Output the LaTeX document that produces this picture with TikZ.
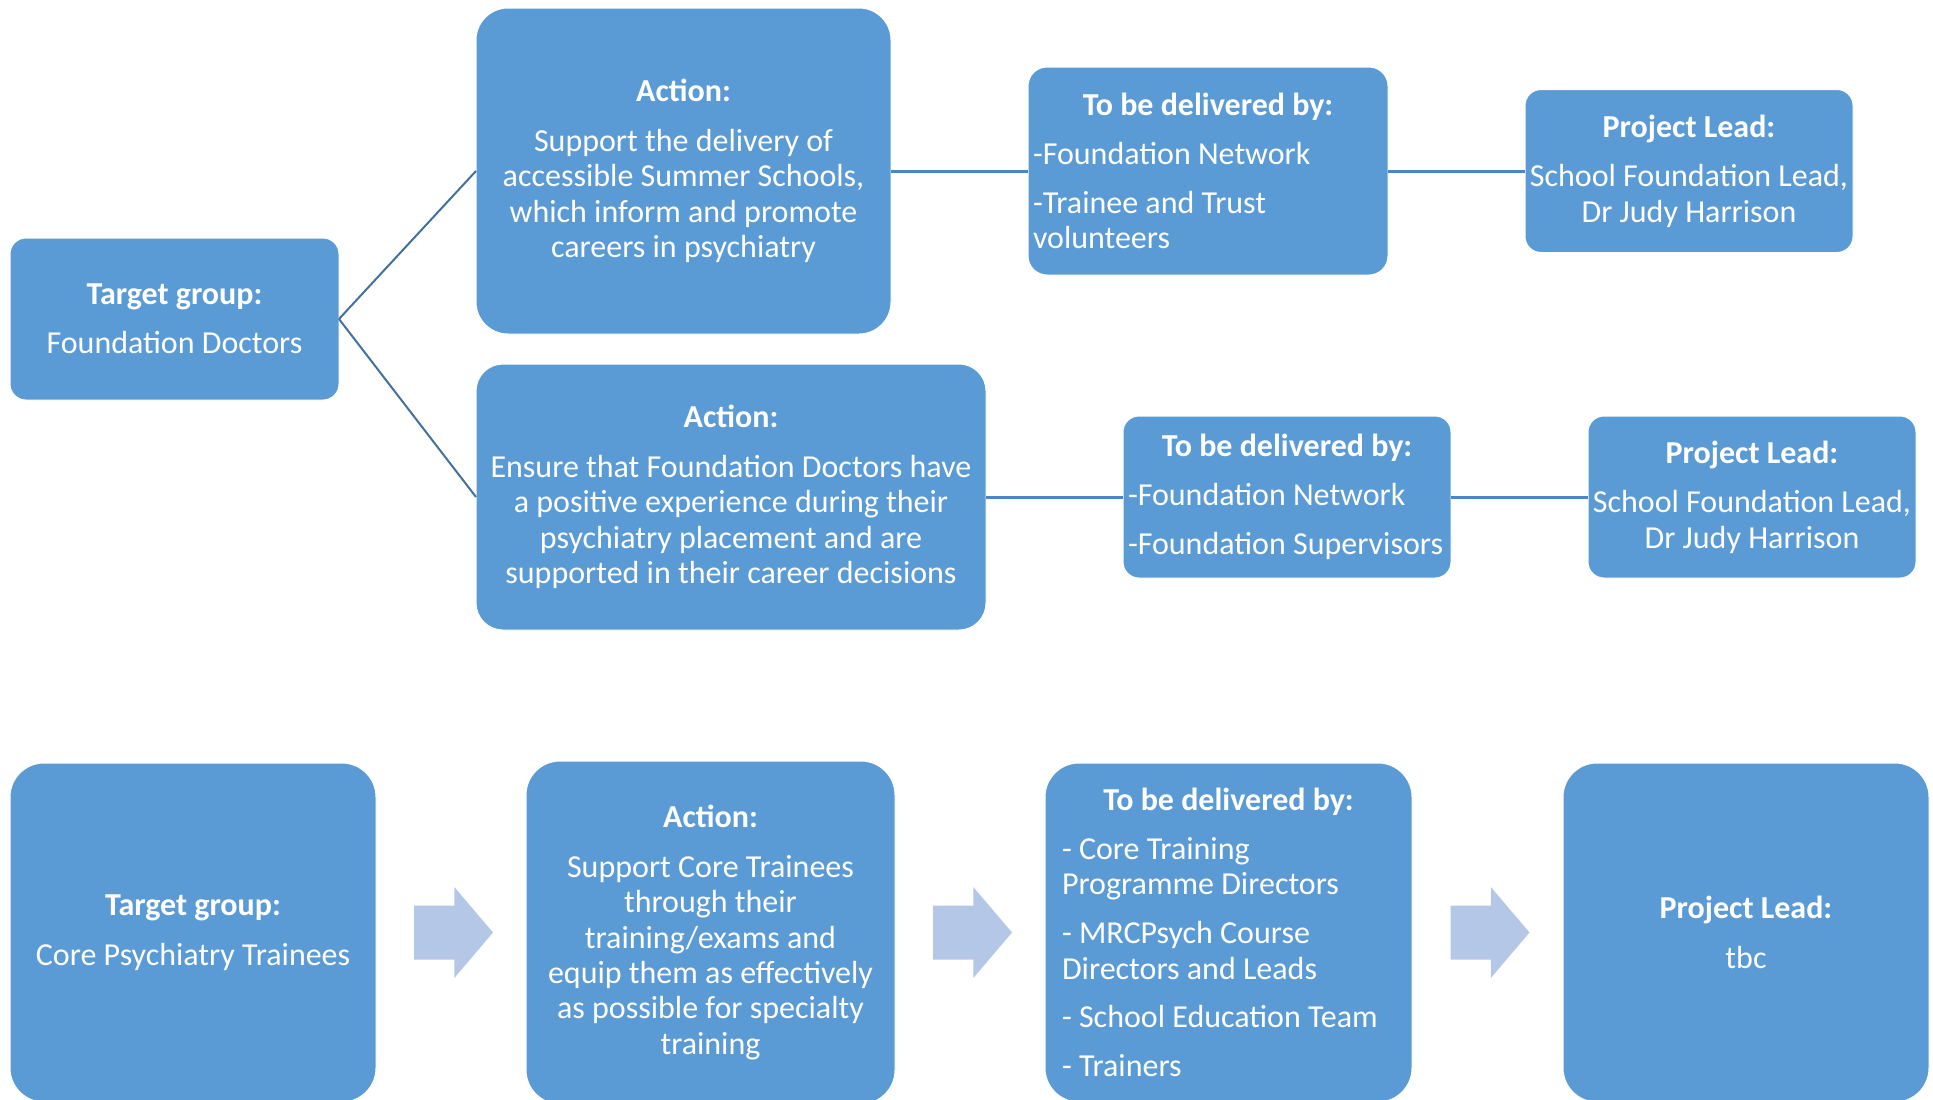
\documentclass[tikz,border=0pt]{standalone}
\usepackage{fontspec}
\setmainfont{Carlito}
\usetikzlibrary{calc}

\definecolor{boxblue}{HTML}{5B9BD5}
\definecolor{diaglink}{HTML}{41719C}
\definecolor{flatlink}{HTML}{4A86C5}
\definecolor{arrowblue}{HTML}{B4C7E7}

\tikzset{
  card/.style={fill=boxblue, draw=white, line width=1pt, text=white,
    inner sep=0pt, outer sep=0pt,
    font=\fontsize{32}{35.4}\selectfont},
  cardc/.style={card, align=center},
  cardl/.style={card, align=left},
  branch/.style={draw=diaglink, line width=2pt},
  link/.style={draw=flatlink, line width=3pt},
  flowarrow/.pic={
    \fill[arrowblue] (-39.5,-27) -- (0.8,-27) -- (0.8,-45.5) -- (39.5,0)
      -- (0.8,45.5) -- (0.8,27) -- (-39.5,27) -- cycle;
  }
}

% centred bold heading spanning a left-aligned block of the given width
\newcommand{\headline}[2]{\makebox[#1][c]{\textbf{#2}}}

\begin{document}
\begin{tikzpicture}[x=1pt,y=-1pt]
\path[use as bounding box] (0,0) rectangle (1933,1100);
\clip (0,0) rectangle (1933,1100);

% ---- Foundation Doctors ----
\node[cardc, rounded corners=16, minimum width=329, minimum height=162] (tg1) at (174.5,319)
  {\textbf{Target group:}\\[14pt]Foundation Doctors};

\node[cardc, rounded corners=32, minimum width=415, minimum height=326] (a1) at (683.5,171)
  {\textbf{Action:}\\[14pt]Support the delivery of\\accessible Summer Schools,\\which inform and promote\\careers in psychiatry};

\node[cardc, rounded corners=27, minimum width=510, minimum height=266] (a2) at (731,497)
  {\textbf{Action:}\\[14pt]Ensure that Foundation Doctors have\\a positive experience during their\\psychiatry placement and are\\supported in their career decisions};

\node[cardl, rounded corners=19, minimum width=360, minimum height=208] (d1) at (1208,171)
  {\headline{350pt}{To be delivered by:}\\[13.5pt]-Foundation Network\\[13.5pt]-Trainee and Trust\\volunteers};

\node[cardl, rounded corners=16, minimum width=328, minimum height=162] (d2) at (1287,497)
  {\headline{318pt}{To be delivered by:}\\[13.5pt]-Foundation Network\\[13.5pt]-Foundation Supervisors};

\node[cardc, rounded corners=16, minimum width=328, minimum height=163] (p1) at (1689,171)
  {\textbf{Project Lead:}\\[14pt]School Foundation Lead,\\Dr Judy Harrison};

\node[cardc, rounded corners=16, minimum width=328, minimum height=162] (p2) at (1752,497)
  {\textbf{Project Lead:}\\[14pt]School Foundation Lead,\\Dr Judy Harrison};

\draw[branch] (tg1.east) -- (a1.west);
\draw[branch] (tg1.east) -- (a2.west);
\draw[link] (a1.east) -- (a1.east -| d1.west);
\draw[link] (d1.east) -- (d1.east -| p1.west);
\draw[link] (a2.east) -- (a2.east -| d2.west);
\draw[link] (d2.east) -- (d2.east -| p2.west);

% ---- Core Psychiatry Trainees ----
\node[cardc, rounded corners=34, minimum width=366, minimum height=339] (tg2) at (193,932.5)
  {\textbf{Target group:}\\[14pt]Core Psychiatry Trainees};

\node[cardc, rounded corners=34, minimum width=369, minimum height=343] (a3) at (710.5,932.5)
  {\textbf{Action:}\\[14pt]Support Core Trainees\\through their\\training/exams and\\equip them as effectively\\as possible for specialty\\training};

\node[cardl, rounded corners=34, minimum width=367, minimum height=339] (d3) at (1228.5,932.5)
  {\headline{333pt}{To be delivered by:}\\[13.5pt]- Core Training\\Programme Directors\\[13.5pt]- MRCPsych Course\\Directors and Leads\\[13.5pt]- School Education Team\\[13.5pt]- Trainers};

\node[cardc, rounded corners=34, minimum width=366, minimum height=339] (p3) at (1746,932.5)
  {\textbf{Project Lead:}\\[14pt]tbc};

\pic at ($(tg2.east)!0.5!(a3.west)+(2.5,0)$) {flowarrow};
\pic at ($(a3.east)!0.5!(d3.west)+(2.5,0)$) {flowarrow};
\pic at ($(d3.east)!0.5!(p3.west)+(2.5,0)$) {flowarrow};
\end{tikzpicture}
\end{document}
